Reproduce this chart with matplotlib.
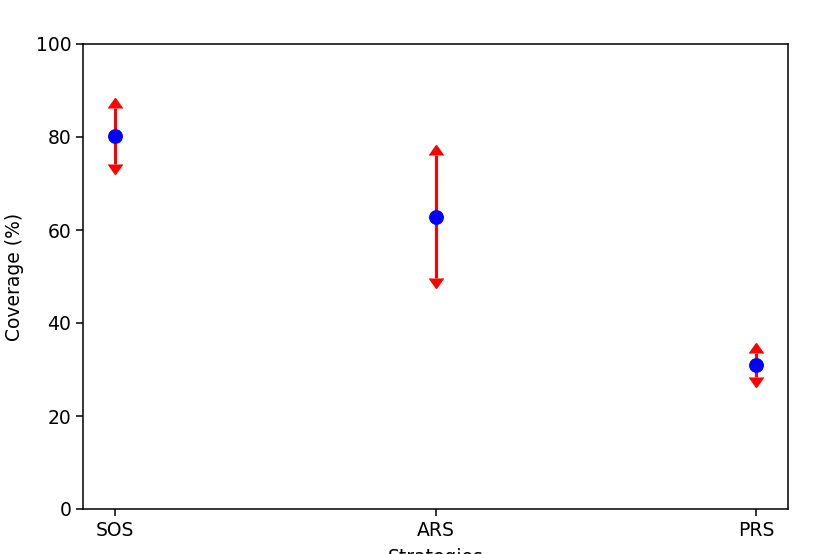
import matplotlib
matplotlib.use("Agg")
import matplotlib.pyplot as plt
from matplotlib.markers import CARETUPBASE, CARETDOWNBASE
import numpy as np

strategies = ["SOS", "ARS", "PRS"]
coverage = [80.2, 62.9, 31.0]
err = [6.0, 13.2, 2.6]

plt.rcParams['font.size'] = 13.5
plt.rcParams['axes.linewidth'] = 1.1

fig = plt.figure(figsize=(8.3, 5.54), dpi=100)
ax = fig.add_axes([83/830, 1 - 509/554, (788-83)/830, (509-44)/554])

x = np.arange(len(strategies))
cov = np.array(coverage)
e = np.array(err)
ax.errorbar(x, cov, yerr=e, fmt='none', ecolor='red', elinewidth=2.2, capsize=0, zorder=2)
ax.plot(x, cov + e, linestyle='none', marker=CARETUPBASE, color='red', markersize=10, zorder=2)
ax.plot(x, cov - e, linestyle='none', marker=CARETDOWNBASE, color='red', markersize=10, zorder=2)
ax.plot(x, cov, 'o', color='blue', markersize=9.7, zorder=4)

ax.set_ylim(0, 100)
ax.set_xlim(-0.1, 2.1)
ax.set_xticks(x)
ax.set_xticklabels(strategies)
ax.set_xlabel("Strategies", labelpad=6)
ax.set_ylabel("Coverage (%)", labelpad=8)
ax.tick_params(length=5, width=1.1)

fig.savefig("out.png", dpi=100)
